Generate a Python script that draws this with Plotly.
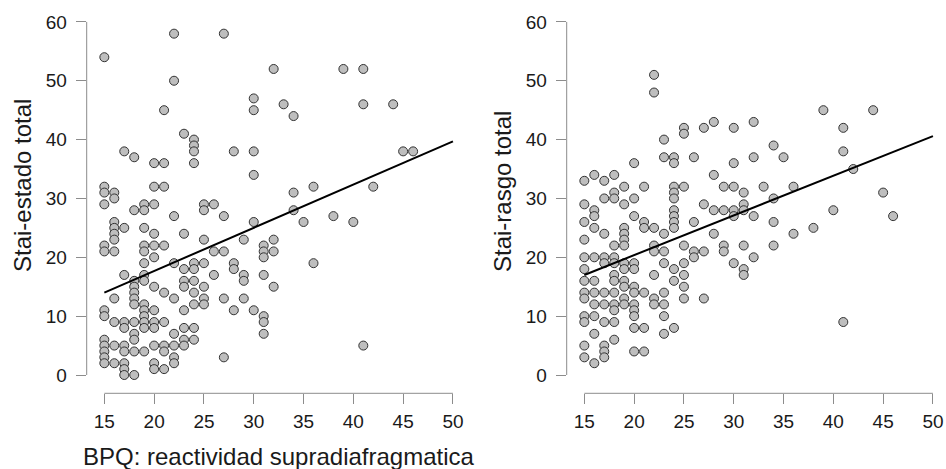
import plotly.graph_objects as go

# ---------------- data ----------------
estado_bpq = [
    15, 15, 15, 15, 15, 15, 15, 15, 15, 15, 15, 15, 15,
    16, 16, 16, 16, 16, 16, 16, 16, 16, 16, 16,
    17, 17, 17, 17, 17, 17, 17, 17, 17, 17,
    18, 18, 18, 18, 18, 18, 18, 18, 18, 18, 18, 18,
    19, 19, 19, 19, 19, 19, 19, 19, 19, 19, 19, 19, 19, 19,
    20, 20, 20, 20, 20, 20, 20, 20, 20, 20, 20, 20, 20,
    21, 21, 21, 21, 21, 21, 21, 21, 21,
    22, 22, 22, 22, 22, 22, 22, 22, 22,
    23, 23, 23, 23, 23, 23, 23, 23, 23,
    24, 24, 24, 24, 24, 24, 24, 24, 24, 24, 24,
    25, 25, 25, 25, 25, 25, 25,
    26, 26, 26,
    27, 27, 27, 27, 27,
    28, 28, 28, 28,
    29, 29, 29, 29,
    30, 30, 30, 30, 30, 30,
    31, 31, 31, 31, 31, 31, 31,
    32, 32, 32, 32,
    33,
    34, 34, 34,
    35,
    36, 36,
    38,
    39,
    40,
    41, 41, 41,
    42,
    44,
    45,
    46,
]
estado_stai = [
    54, 32, 31, 29, 22, 21, 11, 10, 6, 5, 4, 3, 2,
    31, 30, 26, 25, 24, 23, 21, 13, 9, 5, 2,
    38, 25, 17, 9, 8, 5, 4, 2, 1, 0,
    37, 28, 16, 15, 14, 13, 12, 9, 7, 6, 4, 0,
    29, 28, 25, 22, 21, 19, 17, 16, 12, 11, 10, 9, 8, 4,
    36, 32, 29, 24, 22, 20, 15, 11, 9, 8, 5, 2, 1,
    45, 36, 32, 22, 14, 9, 5, 4, 1,
    58, 50, 27, 19, 13, 7, 5, 3, 2,
    41, 24, 18, 16, 15, 11, 8, 6, 5,
    40, 39, 38, 36, 19, 18, 16, 14, 12, 8, 6,
    29, 28, 23, 19, 15, 13, 12,
    29, 21, 17,
    58, 27, 21, 13, 3,
    38, 19, 18, 11,
    23, 17, 16, 13,
    47, 45, 38, 34, 26, 11,
    22, 21, 20, 17, 10, 9, 7,
    52, 23, 21, 15,
    46,
    44, 31, 28,
    26,
    32, 19,
    27,
    52,
    26,
    52, 46, 5,
    32,
    46,
    38,
    38,
]

rasgo_bpq = [
    15, 15, 15, 15, 15, 15, 15, 15, 15, 15, 15, 15, 15,
    16, 16, 16, 16, 16, 16, 16, 16, 16, 16, 16,
    17, 17, 17, 17, 17, 17, 17, 17, 17, 17, 17,
    18, 18, 18, 18, 18, 18, 18, 18, 18, 18, 18, 18, 18,
    19, 19, 19, 19, 19, 19, 19, 19, 19, 19, 19, 19,
    20, 20, 20, 20, 20, 20, 20, 20, 20, 20, 20, 20,
    21, 21, 21, 21, 21, 21,
    22, 22, 22, 22, 22, 22, 22, 22,
    23, 23, 23, 23, 23, 23, 23, 23, 23,
    24, 24, 24, 24, 24, 24, 24, 24, 24, 24, 24, 24,
    25, 25, 25, 25, 25, 25, 25, 25,
    26, 26, 26, 26,
    27, 27, 27, 27,
    28, 28, 28, 28,
    29, 29, 29, 29,
    30, 30, 30, 30, 30, 30,
    31, 31, 31, 31, 31, 31,
    32, 32, 32, 32,
    33,
    34, 34, 34, 34,
    35,
    36, 36,
    38,
    39,
    40,
    41, 41, 41,
    42,
    44,
    45,
    46,
]
rasgo_stai = [
    33, 29, 26, 23, 20, 18, 16, 14, 13, 10, 9, 5, 3,
    34, 28, 27, 25, 20, 16, 14, 12, 10, 7, 2,
    33, 30, 24, 20, 19, 14, 12, 9, 5, 4, 3,
    34, 31, 30, 22, 20, 19, 17, 16, 14, 12, 11, 9, 6,
    32, 29, 25, 24, 23, 22, 19, 18, 16, 15, 13, 12,
    36, 30, 27, 19, 18, 15, 14, 12, 11, 10, 8, 4,
    32, 26, 25, 14, 8, 4,
    51, 48, 25, 22, 21, 17, 13, 12,
    40, 37, 24, 21, 19, 14, 12, 10, 7,
    37, 36, 32, 31, 30, 28, 27, 26, 25, 18, 16, 8,
    42, 41, 32, 22, 19, 17, 15, 13,
    37, 26, 21, 20,
    42, 29, 21, 13,
    43, 34, 28, 24,
    32, 28, 22, 21,
    42, 36, 32, 28, 27, 19,
    31, 29, 28, 22, 18, 17,
    43, 37, 27, 20,
    32,
    39, 30, 26, 22,
    37,
    32, 24,
    25,
    45,
    28,
    42, 38, 9,
    35,
    45,
    31,
    27,
]

# fitted regression lines (endpoints)
fit_bpq = [15, 50]
fit_estado = [14.0, 39.7]
fit_rasgo = [17.0, 40.6]

x_ticks = [15, 20, 25, 30, 35, 40, 45, 50]
y_ticks = [0, 10, 20, 30, 40, 50, 60]

x_title = "BPQ: reactividad supradiafragmatica"
y_title_left = "Stai-estado total"
y_title_right = "Stai-rasgo total"

# ---------------- layout geometry ----------------
W, H = 946, 469
FONT = "Liberation Sans, Arial, sans-serif"
AXIS_GRAY = "#8c8c8c"
TEXT_COL = "#1a1a1a"

x_range = [13.23, 51.2]
y_range = [-3.11, 63.11]


def px_x(p):
    return p / W


def px_y(p):
    return (H - p) / H


y_dom = [px_y(393.3), px_y(3.6)]
x_dom_left = [px_x(86.7), px_x(464.9)]
x_dom_right = [px_x(566.7), px_x(944.9)]

fig = go.Figure()

marker = dict(size=9, color="#bebebe", line=dict(color="#333333", width=1))

fig.add_trace(go.Scatter(x=estado_bpq, y=estado_stai, mode="markers",
                         marker=marker, xaxis="x", yaxis="y", showlegend=False,
                         cliponaxis=False))
fig.add_trace(go.Scatter(x=fit_bpq, y=fit_estado, mode="lines",
                         line=dict(color="black", width=2), xaxis="x", yaxis="y",
                         showlegend=False))
fig.add_trace(go.Scatter(x=rasgo_bpq, y=rasgo_stai, mode="markers",
                         marker=marker, xaxis="x2", yaxis="y2", showlegend=False,
                         cliponaxis=False))
fig.add_trace(go.Scatter(x=fit_bpq, y=fit_rasgo, mode="lines",
                         line=dict(color="black", width=2), xaxis="x2", yaxis="y2",
                         showlegend=False))


def xaxis_cfg(dom, anchor):
    return dict(domain=dom, range=x_range, anchor=anchor, tickmode="array",
                tickvals=x_ticks, ticktext=[str(v) for v in x_ticks],
                ticks="outside", ticklen=10, tickwidth=1, tickcolor=AXIS_GRAY,
                showline=False, showgrid=False, zeroline=False,
                tickfont=dict(family=FONT, size=19, color=TEXT_COL),
                ticklabelstandoff=1, automargin=False, fixedrange=True)


def yaxis_cfg(anchor):
    return dict(domain=y_dom, range=y_range, anchor=anchor, tickmode="array",
                tickvals=y_ticks, ticktext=[str(v) for v in y_ticks],
                ticks="outside", ticklen=10, tickwidth=1, tickcolor=AXIS_GRAY,
                showline=False, showgrid=False, zeroline=False,
                tickfont=dict(family=FONT, size=19, color=TEXT_COL),
                ticklabelstandoff=5, automargin=False, fixedrange=True)


fig.update_layout(
    width=W, height=H,
    margin=dict(l=0, r=0, t=0, b=0),
    paper_bgcolor="white", plot_bgcolor="white",
    hovermode=False,
    xaxis=xaxis_cfg(x_dom_left, "y"),
    yaxis=yaxis_cfg("x"),
    xaxis2=xaxis_cfg(x_dom_right, "y2"),
    yaxis2=yaxis_cfg("x2"),
)

# R-style axis lines spanning only the tick range
shapes = []
for xr, yr in (("x", "y"), ("x2", "y2")):
    shapes.append(dict(type="line", xref=f"{xr} domain", yref=yr,
                       x0=0, x1=0, y0=y_ticks[0], y1=y_ticks[-1],
                       line=dict(color=AXIS_GRAY, width=1)))
    shapes.append(dict(type="line", xref=xr, yref=f"{yr} domain",
                       x0=x_ticks[0], x1=x_ticks[-1], y0=0, y1=0,
                       line=dict(color=AXIS_GRAY, width=1)))
fig.update_layout(shapes=shapes)

fig.update_layout(annotations=[
    dict(text=x_title, xref="paper", yref="paper", x=px_x(279), y=px_y(456),
         xanchor="center", yanchor="middle", showarrow=False,
         font=dict(family=FONT, size=24, color=TEXT_COL)),
    dict(text=y_title_left, xref="paper", yref="paper", x=px_x(22), y=px_y(186),
         xanchor="center", yanchor="middle", showarrow=False, textangle=-90,
         font=dict(family=FONT, size=24, color=TEXT_COL)),
    dict(text=y_title_right, xref="paper", yref="paper", x=px_x(502), y=px_y(192),
         xanchor="center", yanchor="middle", showarrow=False, textangle=-90,
         font=dict(family=FONT, size=24, color=TEXT_COL)),
])

fig.write_html(
    "out.html",
    config={"displayModeBar": False, "staticPlot": True},
    post_script="document.body.style.margin='0px';"
                "document.body.style.overflow='hidden';",
)
